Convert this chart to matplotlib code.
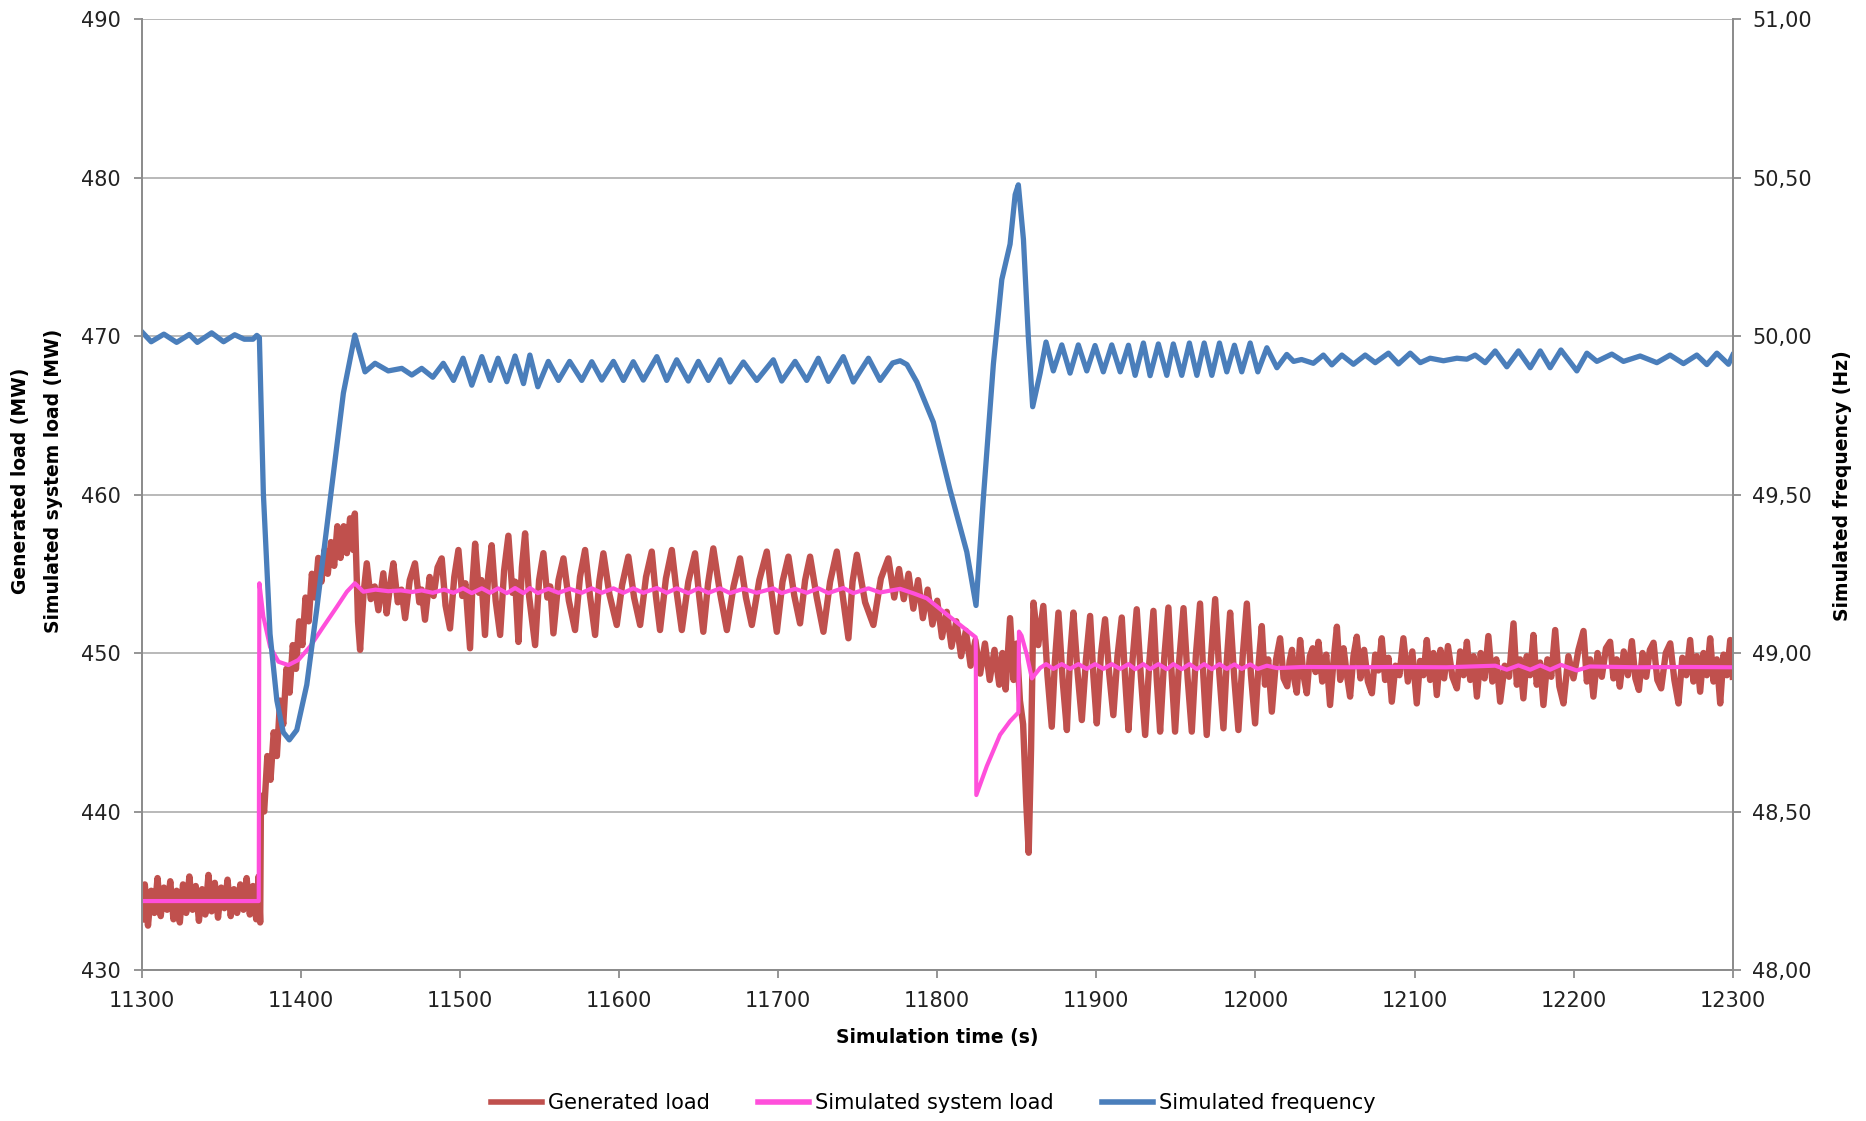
import matplotlib
matplotlib.use("Agg")
import matplotlib.pyplot as plt
from matplotlib.ticker import FuncFormatter

plt.rcParams['font.family'] = ['DejaVu Sans']

# --- generated load (MW), one pair of lists per stretch of the run ---
pre_t = [11300, 11302, 11304, 11306, 11308, 11310, 11312, 11314, 11316, 11318,
         11320, 11322, 11324, 11326, 11328, 11330, 11332, 11334, 11336, 11338,
         11340, 11342, 11344, 11346, 11348, 11350, 11352, 11354, 11356, 11358,
         11360, 11362, 11364, 11366, 11368, 11370, 11372, 11373.5, 11374.5]
pre_mw = [433.2, 435.4, 432.8, 435.0, 433.6, 435.8, 433.4, 435.2, 433.8, 435.6,
          433.2, 435.0, 433.0, 435.4, 433.6, 435.9, 433.8, 435.3, 433.1, 435.1,
          433.5, 436.0, 433.7, 435.5, 433.3, 435.2, 433.9, 435.7, 433.4, 435.1,
          433.6, 435.4, 433.8, 435.8, 433.5, 435.3, 433.2, 435.9, 433.0]

ramp_t = [11375, 11377, 11379, 11381, 11383, 11385, 11387, 11389, 11391, 11393,
          11395, 11397, 11399, 11401, 11403, 11405, 11407, 11409, 11411, 11413,
          11415, 11417, 11419, 11421, 11423, 11425, 11427, 11429, 11431, 11433,
          11434, 11436]
ramp_mw = [441.0, 440.0, 443.5, 442.0, 445.0, 443.5, 447.0, 445.5, 449.0, 447.5,
           450.5, 449.0, 452.0, 450.5, 453.5, 452.0, 455.0, 453.5, 456.0, 454.5,
           456.5, 455.0, 457.0, 455.5, 458.0, 456.0, 458.0, 456.3, 458.5, 456.5,
           458.8, 452.0]

plateau_t = [11437.3, 11439.5, 11441.5, 11444, 11446.5, 11448.8, 11451.9, 11454,
             11456.2, 11458.2, 11461, 11463.3, 11465.6, 11468.5, 11471.8, 11474.5,
             11476, 11478.1, 11481, 11483.5, 11486, 11488.6, 11491, 11493.8,
             11496.5, 11499.1, 11501.5, 11503.5, 11506.4, 11508, 11509.6, 11512,
             11513.6, 11515.8, 11517.8, 11520, 11522.5, 11525.3, 11527.8, 11530.5,
             11533, 11534.8, 11536.8, 11539, 11541, 11543.5, 11547.3, 11549.8,
             11552.5, 11555, 11556.8, 11558.8, 11562, 11565.1, 11568.5, 11572.4,
             11575.5, 11578.7, 11581.8, 11585, 11587.6, 11590.2, 11594, 11598.6,
             11602, 11605.9, 11609.5, 11613.3, 11617, 11620.6, 11623.2, 11625.8,
             11629.5, 11633.2, 11636.3, 11639.5, 11643.6, 11647.8, 11650.4, 11653,
             11656, 11659.3, 11663.5, 11667.8, 11672, 11676.1, 11679.8, 11683.5,
             11688.2, 11692.9, 11696, 11699.2, 11702.8, 11706.5, 11710.2, 11713.8,
             11717, 11720.1, 11724.3, 11728.5, 11732.7, 11736.9, 11740.5, 11744.2,
             11746.8, 11749.5, 11754.7, 11759.9, 11764.6, 11769.3]
plateau_mw = [450.2, 453.8, 455.66, 453.4, 454.2, 452.7, 455.03, 452.5,
              454.3, 455.66, 453.2, 454.0, 452.2, 454.6, 455.66, 453.2,
              454.0, 452.1, 454.8, 453.6, 455.4, 455.97, 453.0, 451.55,
              454.8, 456.5, 453.6, 454.4, 450.3, 454.5, 456.9, 453.8,
              454.6, 451.14, 454.9, 456.8, 453.3, 451.14, 455.2, 457.4,
              453.8, 454.5, 450.7, 455.4, 457.55, 453.6, 450.5, 454.6,
              456.3, 453.5, 454.2, 451.24, 454.6, 455.97, 453.3, 451.45,
              454.8, 456.5, 453.6, 451.14, 454.5, 456.29, 453.7, 451.77,
              454.3, 456.08, 453.5, 451.77, 454.8, 456.4, 453.6, 451.45,
              454.7, 456.5, 453.8, 451.45, 454.5, 456.29, 453.6, 451.34,
              454.4, 456.6, 453.8, 451.45, 454.2, 455.97, 453.5, 451.77,
              454.6, 456.4, 453.7, 451.34, 454.5, 456.08, 453.6, 451.87,
              454.6, 456.08, 453.5, 451.34, 454.5, 456.4, 453.7, 450.93,
              454.5, 456.2, 453.2, 451.77, 454.7, 455.97]

dip_t = [11773, 11776, 11779, 11782, 11785, 11788, 11791, 11794, 11797, 11800,
         11803, 11806, 11809, 11812, 11815, 11818, 11821, 11824, 11827, 11830,
         11833, 11836, 11839, 11841, 11843, 11845.8, 11848, 11850, 11852, 11854,
         11856, 11857.5, 11859]
dip_mw = [453.5, 455.3, 453.4, 455.0, 452.8, 454.6, 452.2, 454.0, 451.8, 453.3,
          451.0, 452.6, 450.4, 452.0, 449.8, 451.4, 449.2, 450.8, 448.7, 450.6,
          448.3, 450.2, 448.0, 450.0, 447.7, 452.2, 448.3, 450.6, 447.0, 445.5,
          440.5, 437.4, 444.0]

swing_t = [11860.5, 11863.5, 11866.7, 11869.3, 11872, 11874, 11876.2, 11878.9,
           11881.5, 11883.5, 11885.6, 11888.2, 11890.9, 11893.5, 11896.1, 11898.2,
           11900.3, 11902.9, 11905.5, 11908.1, 11910.7, 11913.3, 11916, 11918.1,
           11920.2, 11922.8, 11925.4, 11928, 11930.7, 11933.3, 11935.9, 11938,
           11940.1, 11942.7, 11945.3, 11947.4, 11949.5, 11952.1, 11954.8, 11957.4,
           11960, 11962.6, 11965.2, 11967.3, 11969.4, 11972, 11974.7, 11977.3,
           11979.9, 11982, 11984.1, 11986.7, 11989.3, 11992, 11994.6, 11997.2,
           11999.8, 12002, 12004]
swing_mw = [453.18, 450.5, 452.97, 448.6, 445.35, 449.5, 452.55, 448.2,
            445.14, 449.8, 452.55, 448.8, 445.77, 449.6, 452.34, 448.5,
            445.56, 449.9, 452.13, 448.7, 446.08, 449.8, 452.24, 448.4,
            445.14, 449.6, 452.76, 448.5, 444.83, 449.4, 452.66, 448.3,
            445.04, 449.7, 452.87, 448.6, 445.04, 449.5, 452.83, 448.4,
            445.04, 449.9, 453.12, 448.5, 444.83, 449.6, 453.4, 448.7,
            445.25, 449.5, 452.55, 448.4, 445.14, 449.8, 453.12, 448.6,
            445.56, 449.3, 451.7]

settle_t = [12006, 12008, 12010.3, 12013, 12015.5, 12017.7, 12020, 12021.5, 12023,
            12024.5, 12026, 12028.1, 12030.2, 12032.3, 12034.2, 12036, 12037.8,
            12039.6, 12042, 12044.5, 12046.9, 12049, 12051.2, 12053.3, 12055.4,
            12057.5, 12059.5, 12061.6, 12063.7, 12066, 12068.3, 12070.7, 12073.2,
            12075.3, 12077.3, 12079.4, 12081.5, 12083.6, 12085.7, 12088, 12090.5,
            12093, 12095.8, 12098.6, 12101.4, 12103.5, 12105.6, 12107.7, 12109.8,
            12111.9, 12114, 12116.3, 12118.6, 12121, 12123.8, 12126.6, 12128.7,
            12130.8, 12132.9, 12135, 12137.1, 12139.2, 12141.6, 12144, 12146.4,
            12148.9, 12151.4, 12153.8, 12156.6, 12159.4, 12162.2, 12164.3, 12166.3,
            12168.4, 12170.5, 12172.6, 12174.7, 12176.8, 12178.9, 12181, 12183.5,
            12185.9, 12188.4, 12191, 12193.6, 12196.7, 12199.9, 12203, 12206.2,
            12208.3, 12210.3, 12212.4, 12215, 12217.7, 12220.3, 12222.9, 12225,
            12227, 12229, 12231.5, 12234.1, 12236.6, 12238.8, 12241, 12243.3,
            12245.6, 12247.9, 12250.2, 12252.6, 12255, 12257.9, 12260.7, 12263.3,
            12265.9, 12268.3, 12270.8, 12273.2, 12275.3, 12277.4, 12279.5, 12281.6,
            12283.7, 12285.8, 12287.9, 12290, 12292.1, 12294.2, 12296.3, 12298.4,
            12300]
settle_mw = [448.0, 449.6, 446.3, 449.6, 450.93, 448.4, 447.9, 449.5, 450.2,
             448.3, 447.5, 450.82, 448.6, 447.46, 449.8, 450.3, 448.8,
             450.71, 448.2, 449.9, 446.72, 449.4, 451.66, 448.3, 450.3,
             448.6, 447.25, 449.8, 451.03, 448.4, 450.2, 448.2, 447.46,
             449.9, 448.9, 450.93, 448.3, 449.7, 446.93, 449.2, 448.6,
             450.93, 448.2, 450.1, 446.82, 449.5, 448.6, 450.82, 448.3,
             450.0, 447.35, 450.2, 448.4, 450.44, 448.5, 447.77, 450.1,
             448.6, 450.71, 448.3, 449.8, 447.25, 450.0, 448.4, 451.07,
             448.2, 449.6, 446.93, 449.2, 448.5, 451.87, 448.0, 449.6,
             447.14, 449.8, 448.6, 451.14, 448.0, 449.4, 446.72, 449.6,
             448.5, 451.45, 447.9, 446.82, 449.8, 448.4, 450.2, 451.39,
             448.2, 449.6, 447.25, 450.0, 448.5, 450.3, 450.71, 448.4,
             449.6, 447.88, 450.1, 448.6, 450.75, 448.4, 447.67, 450.0,
             448.5, 450.2, 450.65, 448.3, 447.77, 450.0, 450.61, 448.3,
             446.82, 449.7, 448.6, 450.82, 448.2, 449.8, 447.56, 450.0,
             448.6, 450.93, 448.2, 449.6, 446.82, 449.9, 448.6, 450.82,
             448.5]

gen_t = pre_t + ramp_t + plateau_t + dip_t + swing_t + settle_t
gen_mw = pre_mw + ramp_mw + plateau_mw + dip_mw + swing_mw + settle_mw

# --- simulated system load (MW) ---
sys_t = [
    11300, 11373.6, 11374, 11376.5, 11380.7, 11386, 11392.2, 11398.5,
    11405.8, 11414.2, 11422.6, 11429, 11434, 11439.4, 11447, 11455, 11463,
    11470, 11476, 11483, 11490, 11496, 11502, 11507.5, 11513.8, 11519,
    11524, 11529.5, 11534.7, 11540, 11544, 11549, 11555.6, 11562, 11569,
    11576.6, 11582.9, 11589.2, 11596.5, 11602.8, 11609, 11615.3, 11623.8,
    11630, 11636.3, 11643.6, 11649.9, 11656.2, 11663.5, 11669.8, 11678.2,
    11686.6, 11697, 11702.3, 11710.7, 11718, 11725.3, 11731.6, 11741,
    11747.3, 11756.8, 11764.1, 11776.7, 11785, 11793.5, 11804, 11814.4,
    11824.2, 11824.6, 11831.2, 11839.5, 11845.8, 11851, 11851.4, 11853,
    11856.3, 11859.5, 11864.7, 11868.4, 11873, 11878.3, 11883.5, 11888.7,
    11894, 11899.2, 11904.4, 11909.7, 11915, 11920.2, 11924.4, 11929.6,
    11933.8, 11939, 11944.3, 11948.4, 11953.7, 11958.5, 11963.2, 11967.8,
    11972.6, 11977.4, 11982, 11986.8, 11991.4, 11996.7, 12001.5, 12007.2,
    12013.5, 12030, 12060, 12090, 12120, 12150.7, 12158, 12165.3, 12172.7,
    12179, 12185.2, 12192, 12202, 12210, 12240, 12270, 12300,
]
sys_mw = [
    434.35, 434.35, 454.4, 452.3, 450.4, 449.45, 449.24, 449.56,
    450.4, 451.66, 452.9, 453.87, 454.4, 453.87, 454.0, 453.9, 453.95,
    453.85, 453.95, 453.8, 454.0, 453.8, 454.08, 453.78, 454.08, 453.8,
    454.08, 453.78, 454.1, 453.78, 454.1, 453.78, 454.05, 453.8, 454.05,
    453.8, 454.08, 453.8, 454.08, 453.8, 454.08, 453.8, 454.1,
    453.8, 454.08, 453.78, 454.08, 453.8, 454.08, 453.78, 454.05,
    453.8, 454.08, 453.78, 454.05, 453.8, 454.08, 453.78, 454.1,
    453.78, 454.08, 453.82, 454.05, 453.77, 453.45, 452.6, 451.77,
    450.99, 441.04, 442.87, 444.84, 445.7, 446.25, 451.35, 451.1,
    449.9, 448.4, 449.06, 449.3, 449.0, 449.3, 449.0, 449.3,
    449.0, 449.3, 449.0, 449.3, 449.0, 449.3, 448.98, 449.3,
    448.98, 449.3, 448.98, 449.3, 448.98, 449.3, 448.98, 449.3,
    448.98, 449.3, 449.0, 449.28, 449.0, 449.28, 449.0, 449.2,
    449.05, 449.12, 449.1, 449.12, 449.1, 449.2, 448.95, 449.22, 448.95,
    449.22, 448.95, 449.25, 448.9, 449.15, 449.1, 449.12, 449.1,
]

# --- simulated frequency (Hz) ---
freq_t = [
    11300, 11306, 11314, 11322, 11330, 11335, 11344, 11351.5, 11358.5,
    11364.5, 11370, 11372.4, 11374, 11376.5, 11380.7, 11385, 11389, 11392.8,
    11397.5, 11403.8, 11410, 11418.4, 11426.8, 11434, 11440.4, 11446.7,
    11455, 11463.5, 11469.8, 11476, 11483, 11489.6, 11496, 11502, 11507.5,
    11513.8, 11519, 11524, 11529.5, 11534.7, 11540, 11544, 11549, 11555.6,
    11562, 11569, 11576.6, 11582.9, 11589.2, 11596.5, 11602.8, 11609,
    11615.3, 11623.8, 11630, 11636.3, 11643.6, 11649.9, 11656.2, 11663.5,
    11669.8, 11678.2, 11686.6, 11697, 11702.3, 11710.7, 11718, 11725.3,
    11731.6, 11741, 11747.3, 11756.8, 11764.1, 11772, 11776.7, 11781,
    11787.2, 11797.6, 11808, 11818.6, 11824.4, 11829, 11835.3, 11840.6,
    11845.8, 11849, 11851, 11854.2, 11857.3, 11860, 11864.7, 11868.4,
    11873, 11878.3, 11883.5, 11888.7, 11894, 11899.2, 11904.4, 11909.7,
    11915, 11920.2, 11924.4, 11929.6, 11933.8, 11939, 11944.3, 11948.4,
    11953.7, 11958.5, 11963.2, 11967.8, 11972.6, 11977.4, 11982, 11986.8,
    11991.4, 11996.7, 12001.5, 12007.2, 12013.5, 12019.7, 12024, 12029,
    12036.4, 12042.7, 12048, 12054.3, 12061.6, 12069, 12075.3, 12083.6,
    12089.9, 12097.3, 12103.6, 12109.8, 12118.2, 12126.6, 12132.9, 12138.1,
    12144.4, 12150.7, 12158, 12165.3, 12172.7, 12179, 12185.2, 12192,
    12202, 12208.3, 12214.6, 12224, 12231.3, 12241.8, 12252.3, 12260.6,
    12269, 12277.4, 12283.7, 12290, 12297.3, 12300,
]
freq_hz = [
    50.014, 49.982, 50.006, 49.98, 50.005, 49.98, 50.01, 49.982, 50.004,
    49.99, 49.99, 50.002, 49.995, 49.504, 49.06, 48.85, 48.75, 48.726,
    48.757, 48.90, 49.136, 49.48, 49.82, 50.003, 49.887, 49.914,
    49.89, 49.898, 49.877, 49.898, 49.87, 49.914, 49.86, 49.93, 49.845,
    49.935, 49.86, 49.93, 49.856, 49.937, 49.85, 49.94, 49.84, 49.92,
    49.86, 49.92, 49.86, 49.919, 49.861, 49.92, 49.86, 49.919,
    49.861, 49.935, 49.86, 49.925, 49.858, 49.92, 49.86, 49.925,
    49.855, 49.918, 49.86, 49.925, 49.858, 49.92, 49.86, 49.93,
    49.857, 49.935, 49.855, 49.93, 49.86, 49.915, 49.922, 49.91,
    49.855, 49.728, 49.516, 49.319, 49.15, 49.488, 49.911, 50.178,
    50.29, 50.446, 50.477, 50.305, 49.995, 49.777, 49.883, 49.981,
    49.89, 49.972, 49.883, 49.972, 49.89, 49.97, 49.887, 49.972,
    49.887, 49.971, 49.876, 49.978, 49.875, 49.975, 49.876, 49.975,
    49.876, 49.978, 49.876, 49.978, 49.876, 49.978, 49.887, 49.971,
    49.887, 49.978, 49.887, 49.963, 49.90, 49.942, 49.92, 49.926,
    49.914, 49.94, 49.909, 49.94, 49.911, 49.94, 49.916, 49.946,
    49.912, 49.946, 49.916, 49.93, 49.922, 49.93, 49.927, 49.94,
    49.916, 49.953, 49.903, 49.953, 49.90, 49.953, 49.90, 49.956,
    49.89, 49.946, 49.92, 49.943, 49.92, 49.937, 49.916, 49.94,
    49.913, 49.94, 49.91, 49.946, 49.911, 49.94,
]

time_ticks = list(range(11300, 12301, 100))
load_ticks = list(range(430, 491, 10))
freq_ticks = [48.0, 48.5, 49.0, 49.5, 50.0, 50.5, 51.0]

RED = '#C0504D'
PINK = '#FF4FDB'
BLUE = '#4A7EBB'
GRID = '#B3B3B3'
AXIS = '#8C8C8C'
FS = 15
FS_TITLE = 13.5

fig = plt.figure(figsize=(18.66, 11.21), dpi=100)
ax = fig.add_axes([0.0759, 0.1347, 0.8527, 0.8483])
ax2 = ax.twinx()

l1, = ax.plot(gen_t, gen_mw, color=RED, lw=4.6, solid_joinstyle='round', label='Generated load')
l2, = ax.plot(sys_t, sys_mw, color=PINK, lw=3.0, solid_joinstyle='round', label='Simulated system load')
l3, = ax2.plot(freq_t, freq_hz, color=BLUE, lw=3.8, solid_joinstyle='round', label='Simulated frequency')

ax.set_xlim(11300, 12300)
ax.set_ylim(430, 490)
ax2.set_ylim(48, 51)
ax.set_xticks(time_ticks)
ax.set_yticks(load_ticks)
ax2.set_yticks(freq_ticks)
ax2.yaxis.set_major_formatter(FuncFormatter(lambda v, p: f'{v:.2f}'.replace('.', ',')))

ax.grid(axis='y', color=GRID, lw=1.3)
ax.set_axisbelow(True)

for a in (ax, ax2):
    a.spines['top'].set_visible(False)
    for s in ('left', 'right', 'bottom'):
        a.spines[s].set_color(AXIS)
        a.spines[s].set_linewidth(1.3)
    a.tick_params(axis='both', colors=AXIS, labelcolor='#222222', labelsize=FS,
                  length=6, width=1.3, direction='out')
ax.tick_params(axis='x', pad=9)
ax.tick_params(axis='y', pad=9)
ax2.tick_params(axis='y', pad=8)

ax.set_xlabel('Simulation time (s)', fontsize=FS_TITLE, fontweight='bold', labelpad=12)

# two-line left label and right label
fig.text(21 / 1866, 1 - 481 / 1121, 'Generated load (MW)', rotation=90, fontsize=FS_TITLE,
         fontweight='bold', ha='center', va='center')
fig.text(54 / 1866, 1 - 481 / 1121, 'Simulated system load (MW)', rotation=90, fontsize=FS_TITLE,
         fontweight='bold', ha='center', va='center')
fig.text(1842 / 1866, 1 - 486 / 1121, 'Simulated frequency (Hz)', rotation=90, fontsize=FS_TITLE,
         fontweight='bold', ha='center', va='center')

fig.legend(handles=[l1, l2, l3], loc='center', bbox_to_anchor=(0.5, 1 - 1103 / 1121),
           ncol=3, frameon=False, fontsize=FS, handlelength=2.45, handletextpad=0.3,
           columnspacing=2.3)
for h in fig.legends[0].get_lines():
    h.set_linewidth(4.0)

fig.savefig('out.png', dpi=100)
